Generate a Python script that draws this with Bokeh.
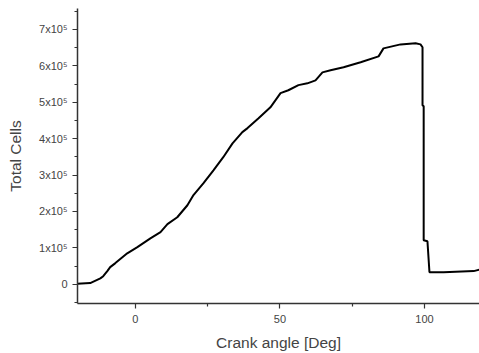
from bokeh.plotting import figure
from bokeh.models import FixedTicker, Range1d
from bokeh.embed import file_html
from bokeh.resources import INLINE

# Crank angle (deg) and total cell count
crank_angle = [-20.1, -15.6, -12.1, -11.1, -9.7, -8.7, -6.9, -2.8, 0.7, 5.2, 8.7, 11.1,
               14.5, 18.0, 20.1, 23.5, 27.0, 30.4, 33.6, 37.0, 38.8, 42.6, 46.7, 50.2,
               52.9, 56.4, 59.5, 62.3, 64.7, 67.5, 72.0, 77.9, 84.1, 85.8, 91.7, 96.9,
               98.6, 99.3, 99.3, 99.7, 99.7, 101.0, 101.7, 106.6, 117.0, 119.5]
total_cells = [1000, 3000, 16000, 22000, 36000, 47000, 58000, 85000, 102000, 126000,
               143000, 165000, 184000, 217000, 245000, 277000, 313000, 349000, 387000,
               418000, 429000, 456000, 486000, 525000, 533000, 547000, 552000, 560000,
               582000, 588000, 596000, 610000, 626000, 648000, 659000, 662000, 659000,
               651000, 492000, 489000, 121000, 118000, 33000, 33000, 36000, 41000]

y_ticks = [0, 100000, 200000, 300000, 400000, 500000, 600000, 700000]
y_tick_labels = ["0", "1x10⁵", "2x10⁵", "3x10⁵", "4x10⁵", "5x10⁵", "6x10⁵", "7x10⁵"]
y_minor = [-50000, 50000, 150000, 250000, 350000, 450000, 550000, 650000, 750000]
x_ticks = [0, 50, 100]
x_minor = [-25, 25, 75]

p = figure(width=479, height=353, output_backend="svg", toolbar_location=None,
           x_range=Range1d(-20, 119), y_range=Range1d(-53000, 757600),
           min_border_left=77, min_border_right=0, min_border_top=8, min_border_bottom=49)
p.outline_line_color = None
p.grid.visible = False
p.background_fill_color = "white"
p.border_fill_color = "white"

p.line(crank_angle, total_cells, line_color="black", line_width=2)

font = "Liberation Sans"
for ax in (p.xaxis[0], p.yaxis[0]):
    ax.axis_line_color = "#333333"
    ax.axis_line_width = 1.5
    ax.major_tick_line_color = "#333333"
    ax.minor_tick_line_color = "#333333"
    ax.major_tick_line_width = 1.2
    ax.minor_tick_line_width = 1.2
    ax.major_tick_out = 5
    ax.major_tick_in = 0
    ax.minor_tick_out = 3
    ax.minor_tick_in = 0
    ax.major_label_text_font = font
    ax.major_label_text_font_size = "11px"
    ax.major_label_text_color = "#444444"
    ax.axis_label_text_font = font
    ax.axis_label_text_font_size = "15.5px"
    ax.axis_label_text_font_style = "normal"
    ax.axis_label_text_color = "#444444"

p.xaxis.ticker = FixedTicker(ticks=x_ticks, minor_ticks=x_minor)
p.yaxis.ticker = FixedTicker(ticks=y_ticks, minor_ticks=y_minor)
p.yaxis.major_label_overrides = {t: l for t, l in zip(y_ticks, y_tick_labels)}
p.xaxis.axis_label = "Crank angle [Deg]"
p.yaxis.axis_label = "Total Cells"
p.xaxis.major_label_standoff = 6
p.yaxis.major_label_standoff = 5
p.yaxis.axis_label_standoff = 12
p.xaxis.axis_label_standoff = 8

open("out.html", "w").write(file_html(p, INLINE))
